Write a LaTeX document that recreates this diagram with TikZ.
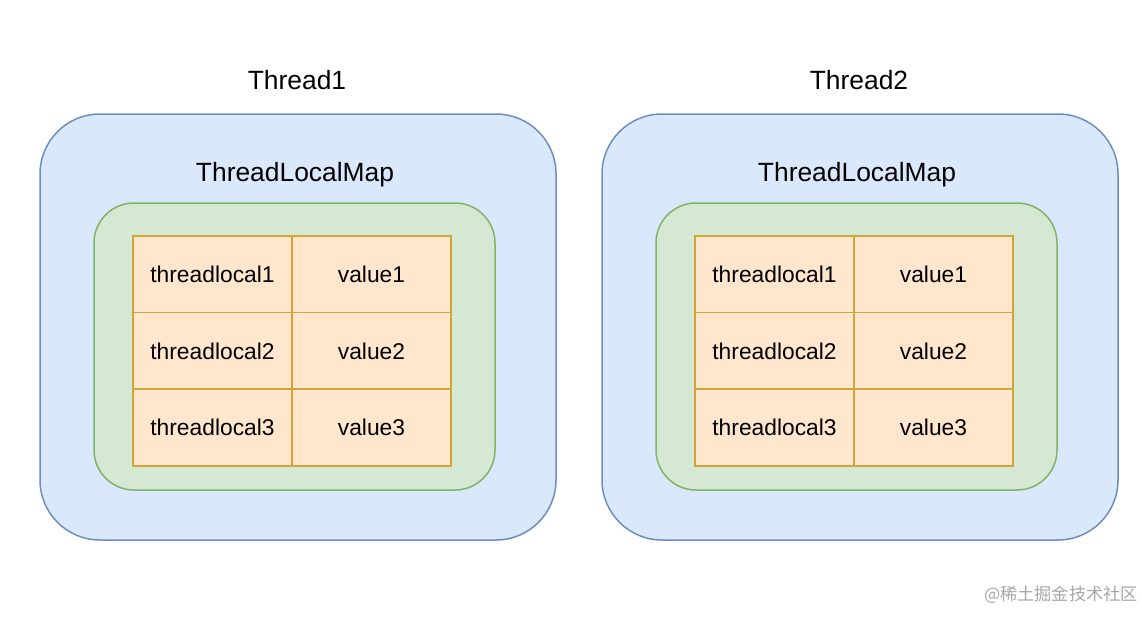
\documentclass[tikz,border=0pt]{standalone}
\usepackage{fontspec}
\setmainfont{Liberation Sans}
\newfontfamily\cjkfont{Noto Sans CJK SC}
\usetikzlibrary{positioning}

\definecolor{threadfill}{HTML}{DAE8FC}
\definecolor{threaddraw}{HTML}{6C8EBF}
\definecolor{mapfill}{HTML}{D5E8D4}
\definecolor{mapdraw}{HTML}{82B366}
\definecolor{cellfill}{HTML}{FFE6CC}
\definecolor{celldraw}{HTML}{D4A437}

\tikzset{
  threadbox/.style={draw=threaddraw, fill=threadfill, line width=0.75pt,
    rounded corners=30pt, minimum width=258pt, minimum height=213pt},
  mapbox/.style={draw=mapdraw, fill=mapfill, line width=0.75pt,
    rounded corners=20pt, minimum width=200.5pt, minimum height=143.5pt},
  cell/.style={draw=celldraw, fill=cellfill, line width=0.75pt,
    minimum width=79.5pt, minimum height=38.5pt, outer sep=0pt,
    font=\fontsize{11.4}{13}\selectfont},
  title/.style={font=\fontsize{13.2}{15}\selectfont}
}

\begin{document}
\begin{tikzpicture}[x=0.5pt, y=-0.5pt]
    \useasboundingbox (0,0) rectangle (1142,643);

    \foreach \i/\dx in {1/0, 2/562} {
      % thread and its map
      \node[threadbox] (thread\i) at (298+\dx, 327) {};
      \node[title] (name\i) at (297+\dx, 80) {Thread\i};
      \node[title] (maplabel\i) at (295+\dx, 175) {ThreadLocalMap};
      \node[mapbox] (map\i) at (294.5+\dx, 346.5) {};

      % entries
      \foreach \r/\y in {1/274.5, 2/351, 3/427.5} {
        \node[cell] (key\i-\r) at (212.5+\dx, \y) {threadlocal\r};
        \node[cell, right=0pt of key\i-\r] (val\i-\r) {value\r};
      }
    }

    \node[text=gray!70, font=\cjkfont\fontsize{8.6}{11}\selectfont, anchor=east]
      (mark) at (1145, 595) {@稀土掘金技术社区};
\end{tikzpicture}
\end{document}
